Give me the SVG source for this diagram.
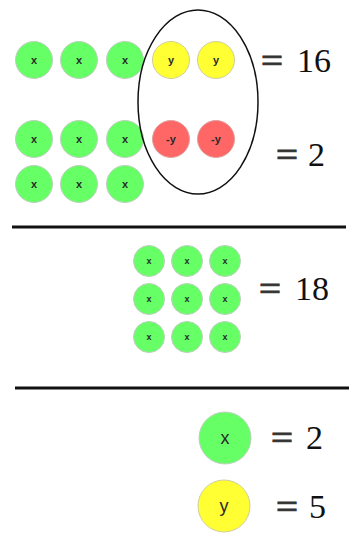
<svg xmlns="http://www.w3.org/2000/svg" width="354" height="541" viewBox="0 0 354 541">
<style>
.g{fill:#66ff66;stroke:#bfcfbf;stroke-width:1}
.yl{fill:#ffff33;stroke:#cfcf9f;stroke-width:1}
.r{fill:#ff6666;stroke:#dfa0a0;stroke-width:1}
.t{font-family:"Liberation Sans",Arial,sans-serif;fill:#2a2a2a;text-anchor:middle}
.s{font-size:11px;font-weight:bold}
.xs{font-size:9px;font-weight:bold}
.b{font-size:18px}
.eq{font-family:"Liberation Serif","DejaVu Serif",serif;font-size:34px;fill:#111}
.op{font-family:"Liberation Serif","DejaVu Serif",serif;font-size:34px;fill:#333;stroke:#333;stroke-width:0.9}
</style>
<rect width="354" height="541" fill="#fff"/>
<g id="row1">
<circle class="g" cx="34" cy="60" r="18.5"/><text class="t s" x="34" y="64">x</text>
<circle class="g" cx="79" cy="60" r="18.5"/><text class="t s" x="79" y="64">x</text>
<circle class="g" cx="125" cy="60" r="18.5"/><text class="t s" x="125" y="64">x</text>
<circle class="yl" cx="171" cy="60" r="18.5"/><text class="t s" x="171" y="64">y</text>
<circle class="yl" cx="216" cy="60" r="18.5"/><text class="t s" x="216" y="64">y</text>
</g>
<g id="row2">
<circle class="g" cx="34" cy="139" r="18.5"/><text class="t s" x="34" y="143">x</text>
<circle class="g" cx="79" cy="139" r="18.5"/><text class="t s" x="79" y="143">x</text>
<circle class="g" cx="125" cy="139" r="18.5"/><text class="t s" x="125" y="143">x</text>
<circle class="r" cx="171" cy="139" r="18.5"/><text class="t s" x="171" y="143">-y</text>
<circle class="r" cx="216" cy="139" r="18.5"/><text class="t s" x="216" y="143">-y</text>
<circle class="g" cx="34" cy="184" r="18.5"/><text class="t s" x="34" y="188">x</text>
<circle class="g" cx="79" cy="184" r="18.5"/><text class="t s" x="79" y="188">x</text>
<circle class="g" cx="125" cy="184" r="18.5"/><text class="t s" x="125" y="188">x</text>
</g>
<g id="ellipse">
<ellipse cx="198" cy="102" rx="60" ry="92" fill="none" stroke="#111" stroke-width="1.5"/>
</g>
<g id="eq1"><text class="op" x="261" y="72" textLength="22" lengthAdjust="spacingAndGlyphs">=</text><text class="eq" x="297" y="72">16</text></g>
<g id="eq2"><text class="op" x="276" y="166" textLength="22" lengthAdjust="spacingAndGlyphs">=</text><text class="eq" x="308" y="166">2</text></g>
<g id="lines">
<line x1="12" y1="227" x2="346" y2="227" stroke="#111" stroke-width="3"/>
<line x1="15" y1="388" x2="349" y2="388" stroke="#111" stroke-width="3"/>
</g>
<g id="grid">
<circle class="g" cx="149" cy="261" r="15.5"/><text class="t xs" x="149" y="264">x</text>
<circle class="g" cx="187" cy="261" r="15.5"/><text class="t xs" x="187" y="264">x</text>
<circle class="g" cx="225" cy="261" r="15.5"/><text class="t xs" x="225" y="264">x</text>
<circle class="g" cx="149" cy="299" r="15.5"/><text class="t xs" x="149" y="302">x</text>
<circle class="g" cx="187" cy="299" r="15.5"/><text class="t xs" x="187" y="302">x</text>
<circle class="g" cx="225" cy="299" r="15.5"/><text class="t xs" x="225" y="302">x</text>
<circle class="g" cx="149" cy="337" r="15.5"/><text class="t xs" x="149" y="340">x</text>
<circle class="g" cx="187" cy="337" r="15.5"/><text class="t xs" x="187" y="340">x</text>
<circle class="g" cx="225" cy="337" r="15.5"/><text class="t xs" x="225" y="340">x</text>
</g>
<g id="eq3"><text class="op" x="259" y="300" textLength="22" lengthAdjust="spacingAndGlyphs">=</text><text class="eq" x="295" y="300">18</text></g>
<g id="xval">
<circle class="g" cx="225" cy="438" r="26"/><text class="t b" x="225" y="444">x</text>
<text class="op" x="271" y="449" textLength="22" lengthAdjust="spacingAndGlyphs">=</text><text class="eq" x="306" y="449">2</text>
</g>
<g id="yval">
<circle class="yl" cx="224" cy="506" r="26"/><text class="t b" x="224" y="512">y</text>
<text class="op" x="276" y="518" textLength="22" lengthAdjust="spacingAndGlyphs">=</text><text class="eq" x="309" y="518">5</text>
</g>
</svg>
